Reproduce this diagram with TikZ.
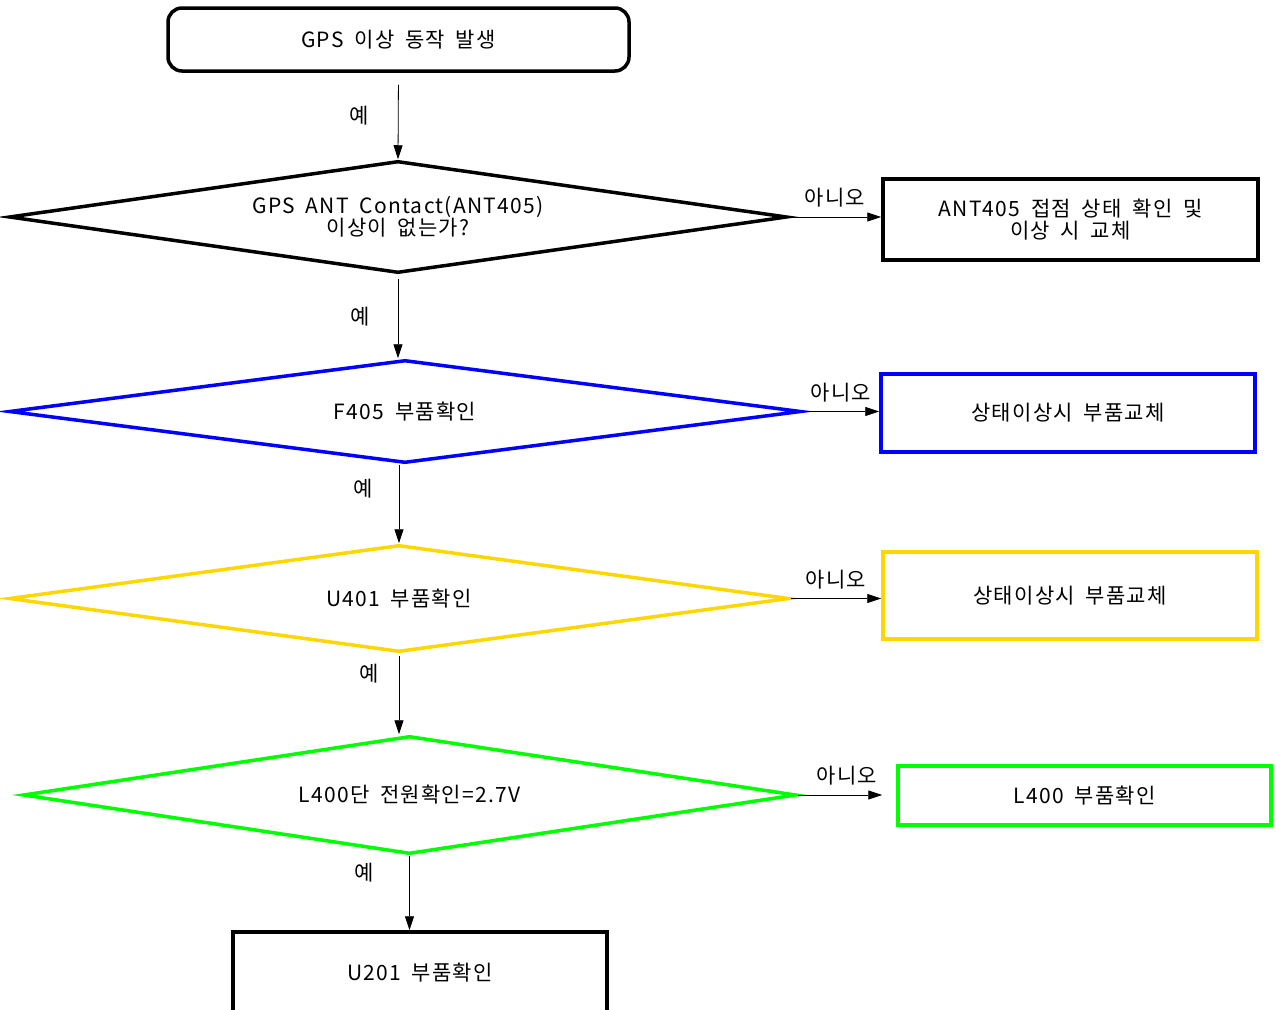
\documentclass[tikz,border=0pt]{standalone}
\usepackage{fontspec}
\setmainfont{Noto Sans CJK KR}[LetterSpace=6,WordSpace=1.8]
\usepackage{xcolor}
\usepackage{tikz}
\usetikzlibrary{arrows.meta,shapes.geometric,positioning}
\definecolor{chkblue}{HTML}{0000FF}
\definecolor{chkgold}{HTML}{FFD700}
\definecolor{chkgreen}{HTML}{00FF00}

\begin{document}
\begin{tikzpicture}[
  x=1pt, y=-1pt,
  font=\fontsize{21}{22}\selectfont,
  box/.style={draw=black, line width=3.5pt, align=center, inner sep=0pt},
  startbox/.style={box, rounded corners=14pt},
  check/.style={box, diamond, shape aspect=7},
  arrow/.style={-{Triangle[length=14pt,width=9pt]}, draw=black, line width=.8pt}
]
\useasboundingbox (0,0) rectangle (1276,1009);

\node[startbox, minimum width=461pt, minimum height=63pt] (start) at (398.5,39.5) {GPS 이상 동작 발생};
\node[check, minimum width=778pt, minimum height=112pt] (ant) at (398,217) {GPS ANT Contact(ANT405)\\이상이 없는가?};
\node[box, minimum width=375pt, minimum height=81pt] (antfix) at (1070.5,219.5) {ANT405 접점 상태 확인 및\\이상 시 교체};
\node[check, draw=chkblue, minimum width=792pt, minimum height=103pt] (fuse) at (405,411.5) {F405 부품확인};
\node[box, draw=chkblue, minimum width=374pt, minimum height=78pt] (fusefix) at (1068,413) {상태이상시 부품교체};
\node[check, draw=chkgold, minimum width=780pt, minimum height=107pt] (ic) at (399,598.5) {U401 부품확인};
\node[box, draw=chkgold, minimum width=374pt, minimum height=87pt] (icfix) at (1070,595.5) {상태이상시 부품교체};
\node[check, draw=chkgreen, minimum width=773pt, minimum height=118pt] (pwr) at (409.5,795) {L400단 전원확인=2.7V};
\node[box, draw=chkgreen, minimum width=373pt, minimum height=59pt] (coil) at (1084.5,795.5) {L400 부품확인};
\node[box, minimum width=374pt, minimum height=82pt] (last) at (420,973) {U201 부품확인};

% yes path
\draw[arrow, shorten <=12pt] (start.south) -- node[left=26pt]{예} (ant.north);
\draw[arrow, shorten <=4pt] (ant.south) -- node[left=24pt]{예} (ant.south |- fuse.north);
\draw[arrow] (ic.north |- fuse.south) -- node[pos=.3, left=22pt]{예} (ic.north);
\draw[arrow, shorten <=2pt] (ic.south) -- node[pos=.25, left=16pt]{예} (ic.south |- pwr.north);
\draw[arrow] (pwr.south) -- node[pos=.22, left=32pt]{예} (pwr.south |- last.north);

% no path
\draw[arrow] (ant.east) -- node[above=6pt]{아니오} (ant.east -| antfix.west);
\draw[arrow] (fuse.east) -- node[above=6pt]{아니오} (fuse.east -| fusefix.west);
\draw[arrow] (ic.east) -- node[above=6pt]{아니오} (ic.east -| icfix.west);
\draw[arrow, shorten >=14pt] (pwr.east) -- node[above=6pt]{아니오} (pwr.east -| coil.west);
\end{tikzpicture}
\end{document}
